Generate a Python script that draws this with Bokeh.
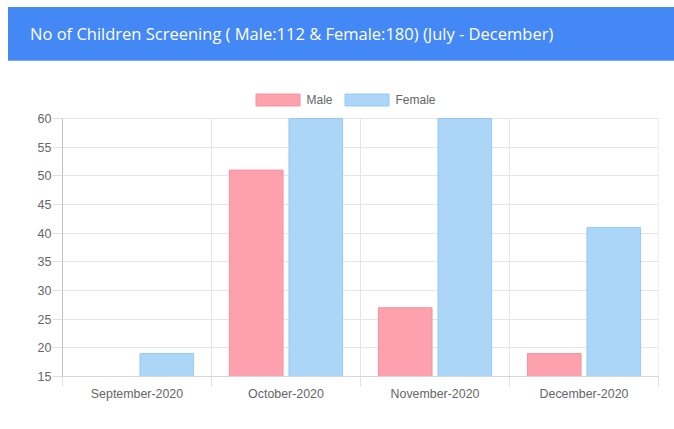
from bokeh.plotting import figure
from bokeh.models import Div, FixedTicker, Legend, LegendItem, ColumnDataSource, Range1d
from bokeh.layouts import column
from bokeh.embed import file_html
from bokeh.resources import INLINE

title_text = "No of Children Screening ( Male:112 & Female:180) (July - December)"
months = ["September-2020", "October-2020", "November-2020", "December-2020"]
male = [15, 51, 27, 19]
female = [19, 60, 60, 41]
y_ticks = [15, 20, 25, 30, 35, 40, 45, 50, 55, 60]

header = Div(
    text=title_text,
    width=666, height=54, margin=(0, 0, 0, 0),
    styles={
        "background-color": "#4488f5",
        "color": "white",
        "font-family": "Open Sans, sans-serif",
        "font-size": "16.5px",
        "padding-left": "22px",
        "line-height": "54px",
        "box-sizing": "border-box",
        "width": "666px",
        "height": "54px",
        "white-space": "nowrap",
        "border-bottom": "1px solid #7aa8f7",
    },
)

ymin, ymax = y_ticks[0], y_ticks[-1]
frame_h, data_h = 288, 258  # frame pixels; pixels spanned by the tick range
y_top = ymin + (ymax - ymin) * frame_h / data_h

p = figure(width=666, height=360, output_backend="svg", toolbar_location=None,
           x_range=Range1d(0, len(months)), y_range=Range1d(ymin, y_top),
           min_border_left=54, min_border_right=16, min_border_top=27, min_border_bottom=45,
           margin=(0, 0, 0, 0))
p.outline_line_color = None
p.background_fill_color = "white"
p.border_fill_color = "white"

# vertical grid lines at category boundaries, only over the tick range
bounds = list(range(len(months) + 1))
p.segment(x0=bounds, x1=bounds, y0=[ymin] * len(bounds), y1=[ymax] * len(bounds),
          line_color="#e6e6e6", line_width=1)

xs = [i + 0.5 for i in range(len(months))]
src = ColumnDataSource(dict(
    xm=[x - 0.2 for x in xs], xf=[x + 0.2 for x in xs], male=male, female=female))

rm = p.vbar(x="xm", top="male", bottom=0, width=0.36, source=src,
            fill_color="#fca1ad", line_color="#fb8fa0", line_width=1)
rf = p.vbar(x="xf", top="female", bottom=0, width=0.36, source=src,
            fill_color="#acd6f8", line_color="#98c9f2", line_width=1)

# y axis
p.yaxis.ticker = FixedTicker(ticks=y_ticks)
p.yaxis.bounds = (ymin, ymax)
p.yaxis.axis_line_color = "#bdbdbd"
p.yaxis.major_tick_line_color = "#e0e0e0"
p.yaxis.major_tick_out = 10
p.yaxis.major_tick_in = 0
p.yaxis.minor_tick_line_color = None
p.yaxis.major_label_text_font = "Liberation Sans"
p.yaxis.major_label_text_font_size = "12.5px"
p.yaxis.major_label_text_color = "#666666"
p.yaxis.major_label_standoff = 1

# x axis
p.xaxis.ticker = FixedTicker(ticks=xs, minor_ticks=bounds)
p.xaxis.major_label_overrides = {x: m for x, m in zip(xs, months)}
p.xaxis.axis_line_color = "#d6d6d6"
p.xaxis.major_tick_line_color = None
p.xaxis.major_tick_out = 0
p.xaxis.major_tick_in = 0
p.xaxis.minor_tick_line_color = "#e0e0e0"
p.xaxis.minor_tick_out = 10
p.xaxis.minor_tick_in = 0
p.xaxis.major_label_text_font = "Liberation Sans"
p.xaxis.major_label_text_font_size = "12.4px"
p.xaxis.major_label_text_color = "#666666"
p.xaxis.major_label_standoff = 0

p.xgrid.grid_line_color = None
p.ygrid.ticker = FixedTicker(ticks=y_ticks)
p.ygrid.grid_line_color = "#e6e6e6"

legend = Legend(items=[LegendItem(label="Male", renderers=[rm]),
                       LegendItem(label="Female", renderers=[rf])],
                orientation="horizontal", location=(187.5, 269),
                glyph_width=55, glyph_height=15, label_height=15,
                label_standoff=2, spacing=6, padding=0, margin=0,
                border_line_color=None, background_fill_alpha=0,
                label_text_font="Liberation Sans", label_text_font_size="12px",
                label_text_color="#666666")
p.add_layout(legend, "center")

layout = column(header, p, spacing=0, margin=(7, 0, 0, 8))
open("out.html", "w").write(file_html(layout, INLINE))
